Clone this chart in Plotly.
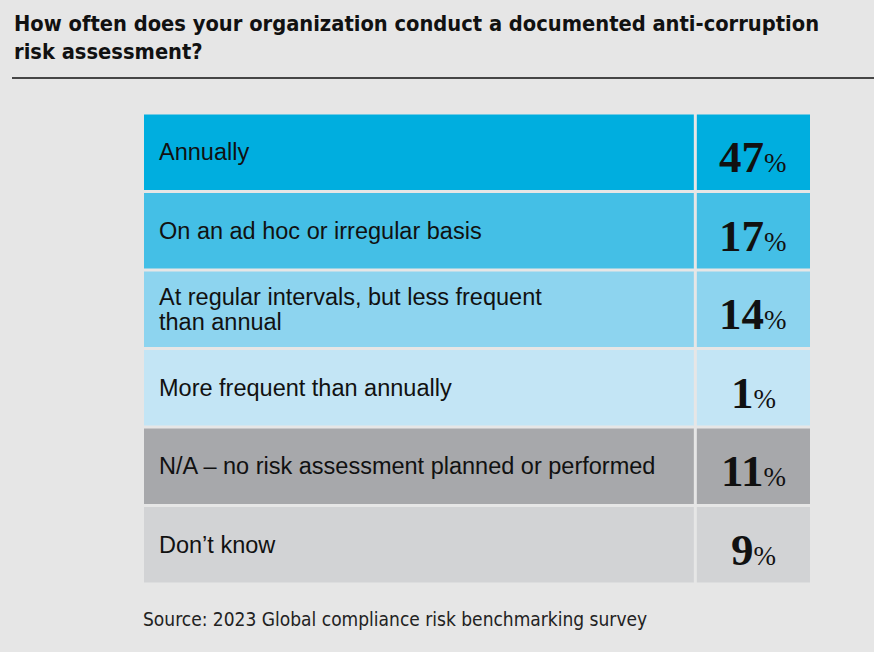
import plotly.graph_objects as go

# Survey answers (top to bottom) and share of respondents
answers = [
    "Annually",
    "On an ad hoc or irregular basis",
    "At regular intervals, but less frequent<br>than annual",
    "More frequent than annually",
    "N/A \u2013 no risk assessment planned or performed",
    "Don\u2019t know",
]
shares = [47, 17, 14, 1, 11, 9]
row_colors = ["#00aedf", "#44bfe6", "#8dd4ef", "#c3e5f5", "#a7a8ab", "#d2d3d5"]

BG = "#e6e6e6"
W, H = 874, 652
LEFT, RIGHT, TOP, BOTTOM = 144, 64, 113, 68
PW, PH = W - LEFT - RIGHT, H - TOP - BOTTOM
LABEL_W = 549   # width of the text column in axis units (= px)
GAP = 3
VALUE_W = 113
SANS = "Liberation Sans, Arial, sans-serif"
NARROW = "Liberation Sans Narrow, DejaVu Sans Condensed, Arial, sans-serif"

fig = go.Figure()

# label column
fig.add_trace(go.Bar(
    y=answers, x=[LABEL_W] * len(answers), base=0,
    orientation="h", marker=dict(color=row_colors, line_width=0),
    hoverinfo="skip", showlegend=False,
))
# value column
fig.add_trace(go.Bar(
    y=answers, x=[VALUE_W] * len(answers), base=LABEL_W + GAP,
    orientation="h", marker=dict(color=row_colors, line_width=0),
    hoverinfo="skip", showlegend=False,
))

annotations = []
for a, s in zip(answers, shares):
    lines = a.split("<br>")
    for i, line in enumerate(lines):
        annotations.append(dict(
            x=13, y=a, xref="x", yref="y", text=line, showarrow=False,
            xanchor="left", yanchor="middle", align="left",
            yshift=(len(lines) - 1) * 12.5 - i * 25,
            font=dict(family=SANS, size=23.5, color="#111111"),
        ))
    annotations.append(dict(
        x=LABEL_W + GAP + VALUE_W / 2, y=a, xref="x", yref="y",
        text=f"<b>{s}</b><span style='font-size:27px;font-weight:normal'>%</span>",
        showarrow=False, xanchor="center", yanchor="middle", yshift=-5,
        font=dict(family="Liberation Serif, Times New Roman, serif", size=45, color="#111111"),
    ))

# title
annotations.append(dict(
    x=-(LEFT - 12) / PW, y=1 + (TOP - 9) / PH, xref="paper", yref="paper",
    text="<b>How often does your organization conduct a documented anti-corruption<br>risk assessment?</b>",
    showarrow=False, xanchor="left", yanchor="top", align="left",
    font=dict(family=NARROW, size=21.7, color="#111111"),
))

# source note
annotations.append(dict(
    x=(141 - LEFT) / PW, y=-(606 - TOP - PH) / PH, xref="paper", yref="paper",
    text="Source: 2023 Global compliance risk benchmarking survey",
    showarrow=False, xanchor="left", yanchor="top",
    font=dict(family=NARROW, size=19, color="#222222"),
))

fig.update_layout(
    width=W, height=H,
    margin=dict(l=LEFT, r=RIGHT, t=TOP, b=BOTTOM),
    paper_bgcolor=BG, plot_bgcolor=BG,
    barmode="overlay", bargap=0.04,
    xaxis=dict(range=[0, LABEL_W + GAP + VALUE_W], visible=False, fixedrange=True),
    yaxis=dict(autorange="reversed", visible=False, fixedrange=True),
    annotations=annotations,
    shapes=[dict(
        type="line", xref="paper", yref="paper",
        x0=-(LEFT - 12) / PW, x1=1 + RIGHT / PW,
        y0=1 + (TOP - 78) / PH, y1=1 + (TOP - 78) / PH,
        line=dict(color="#111111", width=1.5),
    )],
)

fig.write_html(
    "out.html",
    config={"displayModeBar": False},
    post_script="document.body.style.margin='0';document.body.style.overflow='hidden';",
)
